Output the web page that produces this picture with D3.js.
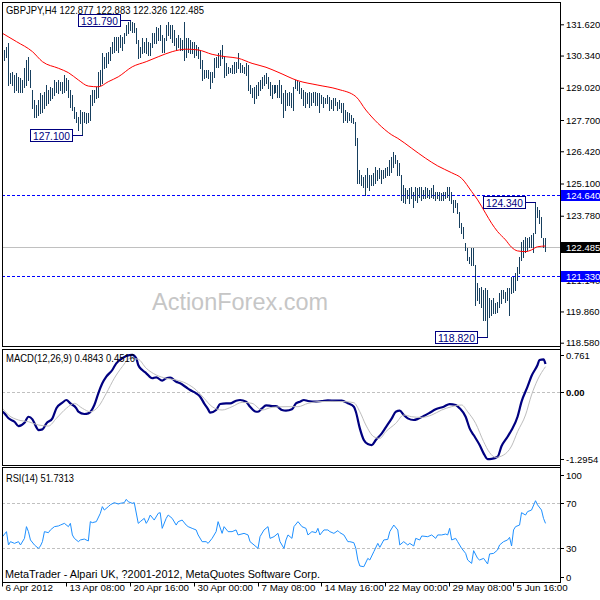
<!DOCTYPE html>
<html><head><meta charset="utf-8">
<script src="https://cdn.jsdelivr.net/npm/d3@7"></script>
<style>body{margin:0;background:#fff}svg{display:block}</style>
</head><body>
<script>
// ---------- DATA ----------
const symbol = "GBPJPY,H4";
const headerOHLC = [122.877, 122.883, 122.326, 122.485];
const barHigh = [
130.43,130.57,130.70,130.84,129.61,129.68,129.54,129.61,129.47,129.41,
129.34,129.82,130.16,130.29,129.75,128.93,128.52,128.31,128.52,128.79,
128.72,128.86,129.13,128.93,129.06,129.00,129.34,129.27,129.34,129.27,
129.27,129.54,129.41,129.34,128.93,128.72,128.25,128.04,127.84,128.11,
128.04,128.04,127.97,127.97,128.72,128.93,128.93,129.06,129.68,129.75,
130.43,130.29,130.43,130.50,130.70,130.91,131.11,131.11,131.11,131.18,
131.11,131.25,131.59,131.73,131.79,131.73,131.66,131.45,130.98,130.70,
131.05,130.91,131.05,130.91,130.84,131.25,131.25,131.52,131.45,131.59,
131.18,131.05,131.59,131.70,131.59,131.59,131.39,131.05,131.18,131.05,
130.98,131.73,131.05,131.05,130.98,130.91,130.91,130.77,130.70,130.57,
130.16,129.75,129.75,129.75,129.68,129.68,130.23,130.29,130.43,130.57,
130.77,130.29,130.02,129.88,129.82,129.95,130.09,130.09,130.43,130.02,
129.95,129.88,130.02,129.95,129.13,129.00,129.06,129.13,129.27,129.34,
129.47,129.54,129.61,129.47,129.27,129.13,129.13,129.13,129.13,
129.34,129.13,128.79,128.93,128.79,128.86,128.79,129.06,129.34,129.34,
129.27,129.00,128.93,128.86,128.79,128.86,128.79,128.86,128.86,128.79,
128.79,128.72,128.66,128.59,128.72,128.66,128.52,128.59,128.59,128.45,
128.52,128.38,128.38,128.11,128.04,127.97,127.91,127.77,127.63,126.95,
125.65,125.45,125.38,125.45,125.72,125.45,125.45,125.52,125.79,125.65,
125.72,125.65,125.65,125.72,125.79,126.06,126.20,126.40,126.27,126.06,
125.93,125.45,125.04,124.90,124.83,124.90,124.97,124.77,124.97,124.90,
124.97,124.97,124.83,124.97,124.90,124.83,124.90,125.04,124.77,124.77,
124.77,124.70,124.77,124.77,124.97,124.97,124.77,124.43,124.43,124.29,
123.95,123.47,123.33,122.65,122.45,122.10,122.45,122.45,121.76,121.01,
120.81,120.87,120.74,120.81,120.74,120.40,120.33,120.40,120.19,120.26,
120.60,120.74,120.74,120.67,120.81,120.81,121.28,121.28,121.42,121.69,
122.10,122.72,122.79,122.92,122.86,122.92,122.99,123.06,124.34,124.15,
124.02,123.74,122.86,122.88];
const barLow = [
130.02,130.16,130.29,129.13,129.20,129.13,128.86,128.93,128.86,128.86,
128.86,129.06,129.13,129.34,129.06,128.18,127.84,127.84,127.91,127.97,
128.04,128.18,128.31,128.38,128.52,128.59,128.72,128.86,128.79,128.93,
128.79,128.86,128.93,128.66,128.25,128.11,127.77,127.63,127.29,127.57,
127.10,127.63,127.57,127.63,127.70,128.31,128.45,128.59,128.66,129.13,
129.20,129.82,129.88,130.02,130.16,130.43,130.50,130.57,130.50,130.70,
130.57,130.84,131.18,131.25,131.39,131.32,131.32,130.84,130.23,130.29,
130.43,130.50,130.43,130.36,130.36,130.70,130.84,130.84,130.98,130.98,
130.50,130.50,130.98,131.18,131.05,130.91,130.77,130.57,130.70,130.57,
130.57,130.16,130.29,130.50,130.43,130.43,130.29,130.36,130.23,129.82,
129.34,129.41,129.47,129.41,129.00,129.27,129.47,129.88,129.88,129.95,
130.23,129.47,129.54,129.61,129.68,129.61,129.61,129.68,129.82,129.68,
129.68,129.61,129.54,128.93,128.79,128.66,128.38,128.59,128.72,128.93,
129.00,129.13,129.20,129.00,128.72,128.59,128.79,128.86,128.66,
128.66,128.38,127.84,128.11,128.31,128.31,128.25,128.11,129.00,128.93,
128.79,128.59,128.31,128.25,128.38,128.25,128.31,128.45,128.31,128.31,
128.04,128.38,128.25,128.38,128.38,128.11,128.18,128.11,128.31,128.11,
128.18,128.04,127.63,127.70,127.63,127.70,127.63,127.57,126.68,125.11,
125.11,125.04,124.97,124.63,124.97,124.83,125.04,125.04,125.11,125.24,
125.31,125.11,125.31,125.38,125.45,125.45,125.58,125.79,125.93,125.45,
125.45,124.43,124.36,124.29,124.49,124.29,124.49,124.15,124.43,124.36,
124.56,124.43,124.49,124.49,124.56,124.49,124.56,124.49,124.43,124.49,
124.43,124.43,124.43,124.49,124.56,124.43,124.29,123.95,124.15,123.88,
123.33,123.06,122.86,122.38,121.97,121.83,121.76,121.76,120.12,120.33,
120.19,120.05,119.51,119.51,118.82,119.65,119.72,119.78,119.78,119.85,
120.05,120.19,120.40,120.26,120.33,119.72,120.60,120.67,120.74,121.15,
121.42,121.97,122.10,122.31,122.38,122.51,122.51,122.31,123.06,123.74,
123.47,122.92,122.51,122.33];

const maIdx = [0,7,15,20,28,33,38,43,48,53,58,65,72,78,85,92,98,105,112,118,125,132,138,148,158,168,177,182,188,195,198,205,212,218,225,230,235,238,242,245,248,252,255,258,262,265,268,272];
const maVal = [131.25,130.91,130.50,130.09,129.82,129.64,129.34,129.09,129.06,129.27,129.47,129.88,130.09,130.29,130.50,130.60,130.57,130.39,130.29,130.23,130.02,129.86,129.66,129.31,129.13,128.96,128.66,128.11,127.57,127.09,126.95,126.54,126.13,125.82,125.54,125.31,124.77,124.43,123.88,123.47,123.13,122.79,122.49,122.34,122.31,122.38,122.51,122.54];

const macdIdx = [0,1,3,6,8,11,13,15,17,18,20,22,25,27,30,32,34,37,38,41,43,46,48,50,52,55,57,60,62,65,67,68,70,72,75,77,80,82,84,87,89,92,94,97,99,101,103,104,107,109,112,114,117,119,122,124,127,128,130,132,135,137,140,142,145,147,149,151,153,157,160,163,167,170,173,176,177,179,181,183,185,187,190,192,195,197,199,201,203,206,208,211,214,217,221,224,227,229,232,234,236,239,241,243,245,248,250,253,255,258,260,263,265,268,269,271,272];
const macdVal = [-0.385,-0.416,-0.512,-0.577,-0.66,-0.596,-0.481,-0.531,-0.685,-0.737,-0.724,-0.608,-0.512,-0.319,-0.212,-0.16,-0.224,-0.319,-0.385,-0.429,-0.416,-0.256,-0.031,0.161,0.288,0.417,0.546,0.642,0.687,0.706,0.642,0.513,0.417,0.354,0.258,0.277,0.212,0.258,0.269,0.192,0.161,0.085,0.033,-0.031,-0.096,-0.224,-0.339,-0.404,-0.352,-0.237,-0.224,-0.224,-0.173,-0.16,-0.192,-0.288,-0.385,-0.385,-0.319,-0.262,-0.275,-0.275,-0.352,-0.365,-0.339,-0.224,-0.192,-0.16,-0.179,-0.192,-0.179,-0.166,-0.173,-0.173,-0.224,-0.288,-0.385,-0.705,-0.929,-1.006,-1.025,-0.929,-0.8,-0.685,-0.512,-0.385,-0.365,-0.448,-0.512,-0.544,-0.525,-0.467,-0.404,-0.339,-0.288,-0.237,-0.256,-0.319,-0.481,-0.705,-0.833,-1.025,-1.185,-1.294,-1.29,-1.25,-1.044,-0.865,-0.737,-0.481,-0.192,0.096,0.302,0.513,0.61,0.623,0.533];
const sigIdx = [0,3,8,13,18,23,27,32,36,40,44,48,52,56,60,64,68,72,77,82,87,92,97,101,105,110,115,120,125,130,135,142,148,153,158,165,172,176,179,182,186,189,192,197,201,205,210,215,220,225,230,233,237,241,244,247,251,255,258,262,265,268,272];
const sigVal = [-0.319,-0.448,-0.544,-0.577,-0.64,-0.66,-0.512,-0.319,-0.224,-0.319,-0.385,-0.288,-0.031,0.258,0.481,0.642,0.623,0.45,0.321,0.258,0.225,0.161,0.033,-0.127,-0.288,-0.352,-0.288,-0.205,-0.224,-0.352,-0.301,-0.288,-0.288,-0.224,-0.192,-0.185,-0.192,-0.212,-0.385,-0.64,-0.865,-0.897,-0.769,-0.608,-0.448,-0.481,-0.494,-0.448,-0.352,-0.288,-0.256,-0.385,-0.608,-0.96,-1.17,-1.262,-1.217,-1.044,-0.769,-0.448,-0.063,0.225,0.481];
const macdHeader = [0.4843, 0.4516];

const rsiIdx = [0,2,3,4,6,8,9,11,12,13,14,16,18,19,20,21,23,24,26,28,29,31,33,34,35,36,38,39,41,43,44,45,47,49,50,51,53,54,56,58,59,61,62,63,65,66,68,69,71,72,73,74,76,78,79,80,82,83,85,87,88,90,92,93,95,97,98,100,102,103,105,107,108,110,111,113,115,117,118,121,123,124,126,128,129,131,133,134,136,138,139,141,142,143,145,146,148,149,150,152,153,155,157,158,159,161,163,164,166,168,169,171,173,174,176,177,178,179,181,183,184,186,188,189,191,193,194,196,198,199,201,203,204,206,207,209,210,213,215,217,218,220,222,223,224,225,227,228,230,232,233,235,236,238,239,241,243,244,246,248,249,251,253,254,255,256,257,259,260,262,263,265,267,268,270,271,272];
const rsiVal = [40.3,44.7,33.0,35.9,34.4,35.9,33.0,38.8,49.1,44.7,37.4,33.0,30.0,32.1,35.9,44.7,43.8,46.2,49.1,49.7,50.5,52.0,49.1,52.0,41.8,38.8,35.9,37.4,38.2,36.5,53.5,52.6,53.5,60.8,66.7,63.7,66.7,68.3,70.2,69.0,69.6,70.2,73.1,71.0,69.6,70.2,52.0,53.5,56.4,52.0,54.9,59.3,54.9,60.8,61.4,47.6,56.4,59.3,56.4,50.5,53.5,54.9,50.5,49.1,47.6,46.2,41.8,35.9,35.9,34.4,38.8,44.7,53.5,43.2,49.1,44.7,44.7,46.2,41.8,43.2,41.8,35.9,33.0,30.0,40.3,46.2,49.1,38.8,40.3,43.2,35.9,30.0,37.4,41.8,38.8,49.1,53.5,51.4,49.1,47.6,41.8,44.7,43.8,47.6,41.8,46.2,46.2,44.7,43.2,45.6,43.8,41.8,35.9,35.9,35.0,30.0,19.8,14.5,13.9,21.2,19.8,27.1,34.4,30.9,37.4,37.9,44.7,50.5,46.2,33.0,35.9,33.0,34.4,32.1,38.8,37.4,40.9,40.3,41.8,38.8,41.8,41.8,42.6,41.8,47.6,37.4,38.8,35.9,30.0,25.6,19.8,16.8,28.0,21.2,19.8,21.2,16.3,25.1,25.6,28.6,33.0,35.9,37.4,39.7,32.1,46.2,49.1,50.5,61.4,59.3,62.3,63.7,71.9,68.3,63.7,56.4,52.0];
const rsiHeader = 51.7313;

const priceTicks = [131.62,130.34,129.02,127.70,126.42,125.10,123.78,122.46,121.14,119.86,118.58];
const levelLines = [124.64, 121.33];
const currentPrice = 122.485;
const noteIdx = [64, 40, 243, 267];
const noteKind = ["high","low","low","high"];
const macdTicks = [0.761, 0.00, -1.2954];
const rsiTicks = [100, 70, 30, 0];
const rsiLevels = [70, 30];
const timeIdx = [0,32,64,96,128,160,192,224,256];
const timeLabels = ["6 Apr 2012","13 Apr 08:00","20 Apr 16:00","30 Apr 00:00","7 May 08:00","14 May 16:00","22 May 00:00","29 May 08:00","5 Jun 16:00"];
const watermark = "ActionForex.com";
const footer = "MetaTrader - Alpari UK, ?2001-2012, MetaQuotes Software Corp.";

// ---------- DRAW ----------
const FONT = '"Liberation Sans", Arial, sans-serif';
const svg = d3.select("body").append("svg").attr("width",600).attr("height",600);
const L = 2, R = 560;
const mainP = {top:2, bottom:346}, macdP = {top:349, bottom:465}, rsiP = {top:467, bottom:582};

const x = d3.scaleLinear().domain([0,272]).range([2.5,545.5]);
const bx = i => Math.floor(x(i)) + 0.5;
const yP = d3.scaleLinear().domain([118.58,131.62]).range([342.7,24.3]);
const yM = d3.scaleLinear().domain([-1.2954,0.761]).range([459.1,352.1]);
const yR = d3.scaleLinear().domain([0,100]).range([582.5,468.75]);

const defs = svg.append("defs");
[["cMain",mainP],["cMacd",macdP],["cRsi",rsiP]].forEach(([id,p])=>{
  defs.append("clipPath").attr("id",id).append("rect")
    .attr("x",L+1).attr("y",p.top+1).attr("width",R-L-1).attr("height",p.bottom-p.top-1);
});

// watermark
svg.append("text").attr("x",152).attr("y",310).attr("font-family",FONT).attr("font-size",23)
  .attr("fill","#c6c6c6").attr("textLength",176).attr("lengthAdjust","spacingAndGlyphs").text(watermark);

const gMain = svg.append("g").attr("clip-path","url(#cMain)");
// level lines
gMain.selectAll("line.lvl").data(levelLines).join("line").attr("class","lvl")
  .attr("x1",L).attr("x2",R).attr("y1",d=>Math.round(yP(d))+0.5).attr("y2",d=>Math.round(yP(d))+0.5)
  .attr("stroke","#0000ff").attr("stroke-dasharray","3,2").attr("shape-rendering","crispEdges");
gMain.append("line").attr("x1",L).attr("x2",R)
  .attr("y1",Math.round(yP(currentPrice))+0.5).attr("y2",Math.round(yP(currentPrice))+0.5)
  .attr("stroke","#c0c0c0").attr("shape-rendering","crispEdges");

// bars
gMain.append("g").selectAll("line").data(d3.range(barHigh.length)).join("line")
  .attr("x1",bx).attr("x2",bx)
  .attr("y1",i=>Math.round(yP(barHigh[i])))
  .attr("y2",i=>Math.round(yP(barLow[i]))+1)
  .attr("stroke","#173f5e").attr("stroke-width",1).attr("shape-rendering","crispEdges");

// moving average
gMain.append("path").datum(maIdx.map((k,j)=>[k,maVal[j]]))
  .attr("d",d3.line().x(d=>x(d[0])).y(d=>yP(d[1])).curve(d3.curveMonotoneX))
  .attr("fill","none").attr("stroke","#ff0000").attr("stroke-width",1);

// annotations
noteIdx.forEach((i,k)=>{
  const v = noteKind[k]==="high" ? barHigh[i] : barLow[i];
  const yy = Math.round(yP(v)) + 0.5;
  const xr = Math.floor(x(i)) - 9.5;
  gMain.append("line").attr("x1",xr).attr("x2",bx(i)).attr("y1",yy).attr("y2",yy)
    .attr("stroke","#000080").attr("shape-rendering","crispEdges");
  gMain.append("rect").attr("x",xr-42).attr("y",yy-6).attr("width",42).attr("height",12)
    .attr("fill","#fff").attr("stroke","#000080").attr("shape-rendering","crispEdges");
  gMain.append("text").attr("x",xr-21).attr("y",yy+4).attr("text-anchor","middle")
    .attr("font-family",FONT).attr("font-size",10.5).attr("fill","#000080")
    .attr("textLength",37).attr("lengthAdjust","spacingAndGlyphs").text(v.toFixed(3));
});

// MACD pane
const gMacd = svg.append("g").attr("clip-path","url(#cMacd)");
gMacd.append("line").attr("x1",L).attr("x2",R).attr("y1",Math.round(yM(0))+0.5).attr("y2",Math.round(yM(0))+0.5)
  .attr("stroke","#c0c0c0").attr("stroke-dasharray","3,2").attr("shape-rendering","crispEdges");
gMacd.append("path").datum(macdIdx.map((k,j)=>[k,macdVal[j]]))
  .attr("d",d3.line().x(d=>x(d[0])).y(d=>yM(d[1])).curve(d3.curveMonotoneX))
  .attr("fill","none").attr("stroke","#000080").attr("stroke-width",2.2);
gMacd.append("path").datum(sigIdx.map((k,j)=>[k,sigVal[j]]))
  .attr("d",d3.line().x(d=>x(d[0])).y(d=>yM(d[1])).curve(d3.curveMonotoneX))
  .attr("fill","none").attr("stroke","#bdbdbd").attr("stroke-width",1);

// RSI pane
const gRsi = svg.append("g").attr("clip-path","url(#cRsi)");
gRsi.selectAll("line.lv").data(rsiLevels).join("line").attr("class","lv")
  .attr("x1",L).attr("x2",R).attr("y1",d=>Math.round(yR(d))+0.5).attr("y2",d=>Math.round(yR(d))+0.5)
  .attr("stroke","#c0c0c0").attr("stroke-dasharray","3,2").attr("shape-rendering","crispEdges");
gRsi.append("path").datum(rsiIdx.map((k,j)=>[k,rsiVal[j]]))
  .attr("d",d3.line().x(d=>x(d[0])).y(d=>yR(d[1])))
  .attr("fill","none").attr("stroke","#1e90ff").attr("stroke-width",1);

// frames
[mainP,macdP,rsiP].forEach(p=>{
  svg.append("rect").attr("x",L+0.5).attr("y",p.top+0.5).attr("width",R-L).attr("height",p.bottom-p.top)
    .attr("fill","none").attr("stroke","#000").attr("shape-rendering","crispEdges");
});

// axes
function styleAxis(g){
  g.select(".domain").remove();
  g.selectAll("text").attr("font-family",FONT).attr("font-size",9.5).attr("fill","#000");
  g.selectAll("line").attr("stroke","#000");
}
svg.append("g").attr("transform",`translate(${R+1},0)`)
  .call(d3.axisRight(yP).tickValues(priceTicks).tickSize(3).tickSizeOuter(0).tickPadding(2).tickFormat(d=>d.toFixed(3)))
  .call(styleAxis);
svg.append("g").attr("transform",`translate(${R+1},0)`)
  .call(d3.axisRight(yM).tickValues(macdTicks).tickSize(3).tickSizeOuter(0).tickPadding(2)
    .tickFormat(d=> d===0 ? "0.00" : (d===-1.2954 ? "-1.2954" : d.toFixed(3))))
  .call(styleAxis)
  .call(g=>g.selectAll(".tick").attr("transform",d=>{
    let yy = yM(d); if (d===0.761) yy += 3; if (d===-1.2954) yy -= 0;
    return `translate(0,${Math.round(yy)+0.5})`;}))
  .call(g=>g.selectAll(".tick text").filter(d=>d===0).attr("font-weight","bold"));
svg.append("g").attr("transform",`translate(${R+1},0)`)
  .call(d3.axisRight(yR).tickValues(rsiTicks).tickSize(3).tickSizeOuter(0).tickPadding(2))
  .call(styleAxis)
  .call(g=>g.selectAll(".tick").attr("transform",d=>{
    let yy = yR(d); if (d===100) yy += 6; if (d===0) yy -= 6;
    return `translate(0,${Math.round(yy)+0.5})`;}));
svg.append("line").attr("x1",R+0.5).attr("x2",R+0.5).attr("y1",mainP.top).attr("y2",rsiP.bottom+1)
  .attr("stroke","#000").attr("shape-rendering","crispEdges");

const xa = svg.append("g").attr("transform",`translate(0,${rsiP.bottom+0.5})`)
  .call(d3.axisBottom(x).tickValues(timeIdx).tickSize(4).tickSizeOuter(0).tickFormat((d,i)=>timeLabels[i]))
  .call(styleAxis);
xa.selectAll(".tick").attr("transform",d=>`translate(${bx(d)},0)`);
xa.selectAll(".tick text").attr("text-anchor","start").attr("x",3).attr("y",2).attr("font-size",9.8);

// highlighted price boxes
const boxes = [[levelLines[0],"#0000ff"],[currentPrice,"#000000"],[levelLines[1],"#0000ff"]];
boxes.forEach(([v,c])=>{
  const yy = Math.round(yP(v));
  svg.append("rect").attr("x",R+1).attr("y",yy-5).attr("width",40).attr("height",11).attr("fill",c);
  svg.append("text").attr("x",R+6).attr("y",yy+4).attr("font-family",FONT).attr("font-size",9.5)
    .attr("fill","#fff").text(v.toFixed(3));
});

// titles
svg.append("text").attr("x",6).attr("y",13.5).attr("font-family",FONT).attr("font-size",10.5).attr("fill","#000")
  .attr("textLength",198).attr("lengthAdjust","spacingAndGlyphs")
  .text(symbol + "  " + headerOHLC.map(d=>d.toFixed(3)).join(" "));
svg.append("text").attr("x",6).attr("y",362).attr("font-family",FONT).attr("font-size",10.5).attr("fill","#000")
  .attr("textLength",129).attr("lengthAdjust","spacingAndGlyphs")
  .text("MACD(12,26,9) " + macdHeader[0].toFixed(4) + " " + macdHeader[1].toFixed(4));
svg.append("text").attr("x",6).attr("y",482).attr("font-family",FONT).attr("font-size",10.5).attr("fill","#000")
  .attr("textLength",68).attr("lengthAdjust","spacingAndGlyphs")
  .text("RSI(14) " + rsiHeader.toFixed(4));
svg.append("text").attr("x",5).attr("y",578).attr("font-family",FONT).attr("font-size",11).attr("fill","#000")
  .attr("textLength",315).attr("lengthAdjust","spacingAndGlyphs").text(footer);
</script>
</body></html>
